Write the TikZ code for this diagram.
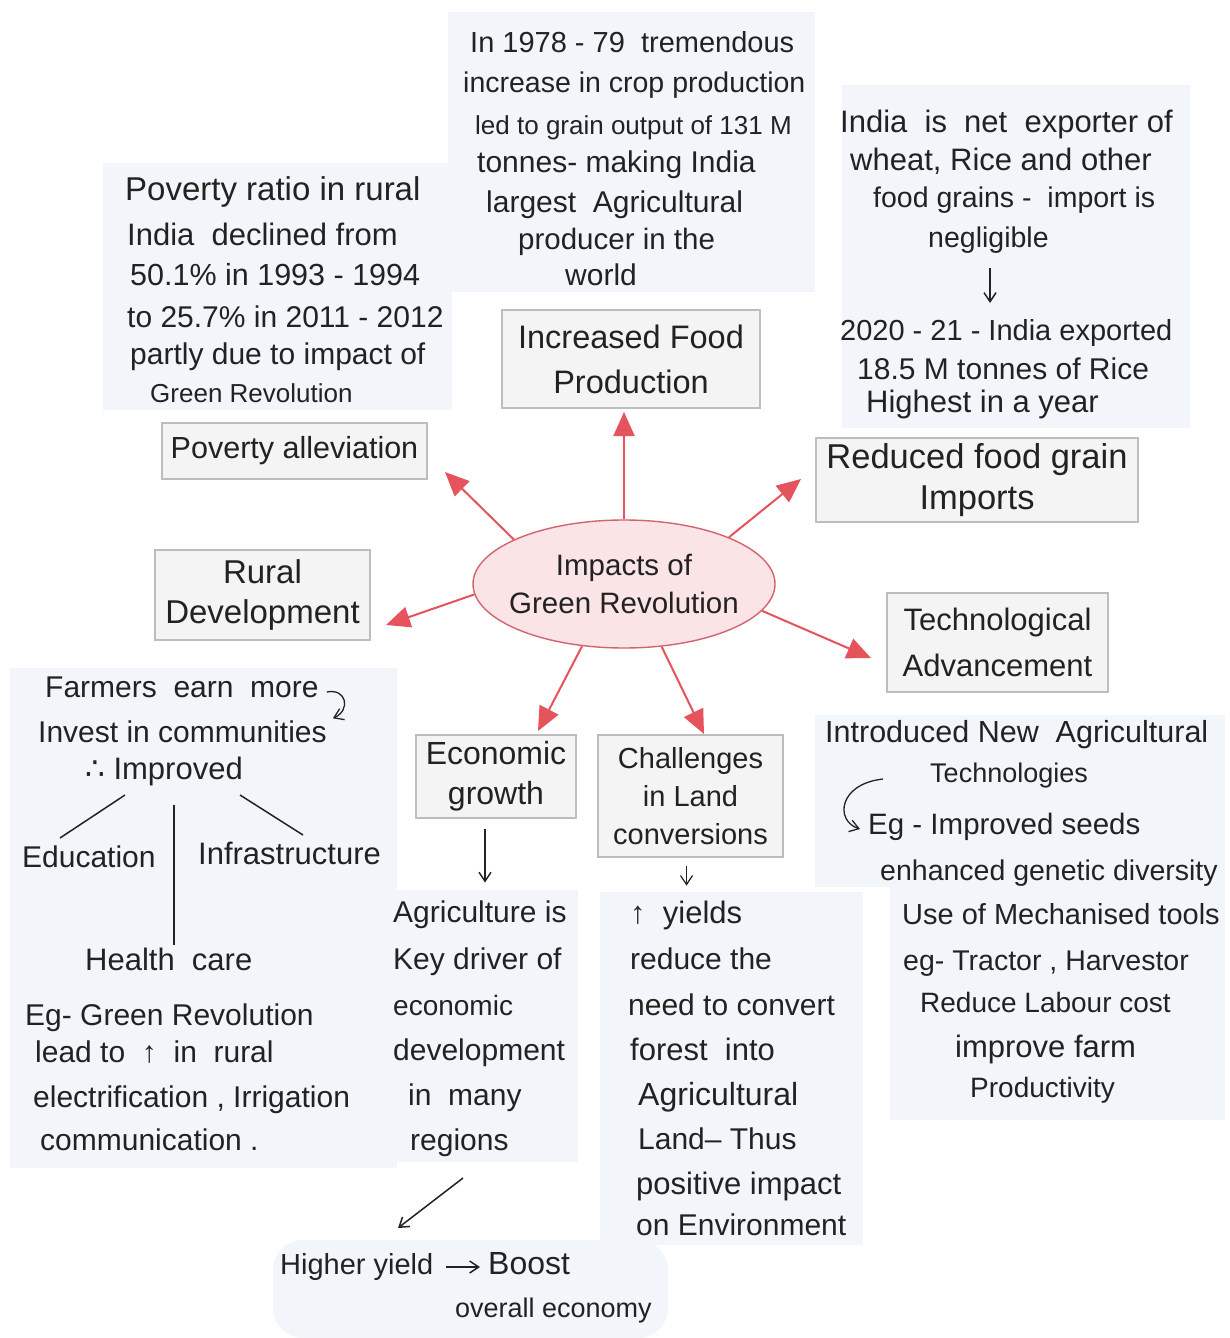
\documentclass[tikz,border=0pt]{standalone}
\usepackage{fontspec}
\setmainfont{Liberation Sans}
\newfontfamily\symfont{DejaVu Sans}
\usetikzlibrary{arrows.meta,shapes.geometric,calc}

\definecolor{panel}{HTML}{F2F6FB}
\definecolor{boxfill}{HTML}{F4F4F4}
\definecolor{boxline}{HTML}{BDBDBD}
\definecolor{hubfill}{HTML}{FBE4E5}
\definecolor{hubline}{HTML}{D2646C}
\definecolor{spoke}{HTML}{E5535C}
\definecolor{ink}{HTML}{222222}

\newcommand{\fs}[1]{\fontsize{#1}{1.3\dimexpr#1pt\relax}\selectfont}

\begin{document}
\begin{tikzpicture}[x=1pt,y=-1pt,
  panelbg/.style={fill=panel,draw=none},
  topic/.style={draw=boxline,fill=boxfill,line width=1.2pt,align=center,
    text=ink,inner sep=0pt},
  hub/.style={ellipse,draw=hubline,fill=hubfill,line width=1.4pt,
    minimum width=302pt,minimum height=128pt,inner xsep=-30pt,inner ysep=-10pt,
    align=center,text=ink,font=\fontsize{29.5}{38}\selectfont},
  ln/.style={anchor=west,inner sep=0pt,text=ink,text height=22pt,
    text depth=7pt,font=\fs{30}},
  spokearrow/.style={draw=spoke,line width=2pt,
    -{Triangle[length=24pt,width=21pt]}},
  pen/.style={draw=ink,line width=1.5pt},
  penarrow/.style={draw=ink,line width=1.5pt,-{Straight Barb[length=9pt,width=12pt]}}
]
\useasboundingbox[fill=white] (0,0) rectangle (1229,1338);

% light note panels
\fill[panelbg] (103,163) rectangle (452,410);
\fill[panelbg] (448,12) rectangle (815,292);
\fill[panelbg] (842,85) rectangle (1190,428);
\fill[panelbg] (10,668) rectangle (397,1168);
\fill[panelbg] (388,890) rectangle (578,1162);
\fill[panelbg] (600,892) rectangle (863,1245);
\fill[panelbg] (815,715) rectangle (1225,887);
\fill[panelbg] (890,887) rectangle (1225,1120);
\fill[panelbg,rounded corners=30pt] (273,1240) rectangle (668,1338);

% central hub
\node[hub] (hub) at (624,584) {Impacts of\\Green Revolution};

% topic boxes
\node[topic,minimum width=258pt,minimum height=98pt,font=\fontsize{32.5}{45}\selectfont]
  (food) at (631,359) {Increased Food\\Production};
\node[topic,minimum width=265pt,minimum height=56pt,font=\fontsize{30.5}{36}\selectfont]
  (pov) at (294.5,451) {Poverty alleviation};
\node[topic,minimum width=322pt,minimum height=84pt,font=\fontsize{34.5}{41}\selectfont]
  (imp) at (977,480) {Reduced food grain\\Imports};
\node[topic,minimum width=215pt,minimum height=90pt,font=\fontsize{33}{40}\selectfont]
  (rural) at (262.5,595) {Rural\\Development};
\node[topic,minimum width=221pt,minimum height=99pt,font=\fontsize{31}{46}\selectfont]
  (tech) at (997.5,642.5) {Technological\\Advancement};
\node[topic,minimum width=160pt,minimum height=83pt,font=\fontsize{32}{40}\selectfont]
  (econ) at (496,776.5) {Economic\\growth};
\node[topic,minimum width=185pt,minimum height=122pt,font=\fontsize{29}{38}\selectfont]
  (chal) at (690.5,796) {Challenges\\in Land\\conversions};

% spoke tips
\coordinate (tfood) at (624,412);
\coordinate (tpov) at (445,472);
\coordinate (timp) at (801,479);
\coordinate (trural) at (386,625);
\coordinate (ttech) at (871,658);
\coordinate (tecon) at (538,731);
\coordinate (tchal) at (704,734);

\draw[spokearrow] (hub.north) -- (tfood);
\draw[spokearrow] (hub.158) -- (tpov);
\draw[spokearrow] (hub.24.5) -- (timp);
\draw[spokearrow] (hub.184.6) -- (trural);
\draw[spokearrow] (hub.-11) -- (ttech);
\draw[spokearrow] (hub.-124) -- (tecon);
\draw[spokearrow] (hub.-59) -- (tchal);

% food production note
\node[ln,font=\fs{29}] (f1) at (470,45) {In 1978 - 79 \ tremendous};
\node[ln,font=\fs{28.5}] (f2) at (463,85) {increase in crop production};
\node[ln,font=\fs{26}] (f3) at (475,127) {led to grain output of 131 M};
\node[ln] (f4) at (477,165) {tonnes- making India};
\node[ln] (f5) at (486,205) {largest \ Agricultural};
\node[ln,font=\fs{29.5}] (f6) at (518,242) {producer in the};
\node[ln] (f7) at (565,278) {world};

% imports note
\node[ln,font=\fs{31}] (r1) at (840,125) {India \ is \ net \ exporter of};
\node[ln,font=\fs{31}] (r2) at (850,163) {wheat, Rice and other};
\node[ln,font=\fs{28.5}] (r3) at (873,200) {food grains - \ import is};
\node[ln,font=\fs{28.5}] (r4) at (928,240) {negligible};
\node[ln,font=\fs{29}] (r5) at (840,333) {2020 - 21 - India exported};
\node[ln] (r6) at (857,372) {18.5 M tonnes of Rice};
\node[ln,font=\fs{31}] (r7) at (866,405) {Highest in a year};
\draw[penarrow] ($(r4.west)+(62,28)$) -- ($(r5.west)+(150,-30)$);

% poverty note
\node[ln,font=\fs{33}] (p1) at (125,193) {Poverty ratio in rural};
\node[ln,font=\fs{31}] (p2) at (127,238) {India \ declined from};
\node[ln,font=\fs{30.5}] (p3) at (130,278) {50.1\% in 1993 - 1994};
\node[ln] (p4) at (127,320) {to 25.7\% in 2011 - 2012};
\node[ln] (p5) at (130,357) {partly due to impact of};
\node[ln,font=\fs{26}] (p6) at (150,395) {Green Revolution};

% rural development note
\node[ln] (d1) at (45,690) {Farmers \ earn \ more};
\node[ln] (d2) at (38,735) {Invest in communities};
\node[ln,font=\fs{31}] (d3) at (85,772) {{\symfont ∴} Improved};
\node[ln] (d4) at (22,860) {Education};
\node[ln,font=\fs{31}] (d5) at (198,857) {Infrastructure};
\node[ln,font=\fs{31}] (d6) at (85,963) {Health \ care};
\node[ln] (d7) at (25,1018) {Eg- Green Revolution};
\node[ln] (d8) at (35,1055) {lead to \ ↑ \ in \ rural};
\node[ln] (d9) at (33,1100) {electrification , Irrigation};
\node[ln] (d10) at (40,1143) {communication .};
\draw[penarrow,line width=1.3pt] ($(d1.east)+(8,2)$) .. controls +(20,-4) and +(18,-8) .. ($(d2.north east)+(6,-2)$);
\draw[pen] ($(d3.west)+(40,23)$) -- ($(d4.west)+(38,-22)$);
\draw[pen] ($(d3.west)+(89,33)$) -- ($(d6.west)+(89,-18)$);
\draw[pen] ($(d3.west)+(155,23)$) -- ($(d5.west)+(105,-22)$);

% economic growth note
\draw[penarrow] ($(econ.south)+(-11,10)$) -- ($(econ.south)+(-11,64)$);
\node[ln] (a1) at (393,915) {Agriculture is};
\node[ln] (a2) at (393,962) {Key driver of};
\node[ln,font=\fs{28}] (a3) at (393,1008) {economic};
\node[ln] (a4) at (393,1053) {development};
\node[ln] (a5) at (408,1098) {in \ many};
\node[ln] (a6) at (410,1143) {regions};
\node[ln,font=\fs{29}] (hy) at (280,1267) {Higher yield};
\node[ln,font=\fs{32}] (boost) at (488,1267) {Boost};
\node[ln,font=\fs{27}] (eco) at (455,1310) {overall economy};
\draw[penarrow] ($(a6.west)+(53,35)$) -- ($(hy.west)+(118,-39)$);
\draw[penarrow] ($(hy.east)+(12,0)$) -- ($(boost.west)+(-8,0)$);

% land conversion note
\draw[penarrow,line width=1.2pt] ($(chal.south)+(-4,8)$) -- ($(chal.south)+(-4,28)$);
\node[ln,font=\fs{31}] (c1) at (630,916) {↑ \ yields};
\node[ln] (c2) at (630,962) {reduce the};
\node[ln] (c3) at (628,1008) {need to convert};
\node[ln,font=\fs{31}] (c4) at (630,1053) {forest \ into};
\node[ln,font=\fs{32}] (c5) at (638,1098) {Agricultural};
\node[ln] (c6) at (638,1142) {Land– Thus};
\node[ln,font=\fs{31}] (c7) at (636,1187) {positive impact};
\node[ln] (c8) at (636,1228) {on Environment};

% technology note
\node[ln,font=\fs{30.5}] (e1) at (825,735) {Introduced New \ Agricultural};
\node[ln,font=\fs{27}] (e2) at (930,775) {Technologies};
\node[ln,font=\fs{29.5}] (e3) at (868,827) {Eg - Improved seeds};
\node[ln,font=\fs{28.5}] (e4) at (880,873) {enhanced genetic diversity};
\node[ln,font=\fs{29}] (e5) at (902,917) {Use of Mechanised tools};
\node[ln,font=\fs{28.5}] (e6) at (903,963) {eg- Tractor , Harvestor};
\node[ln,font=\fs{28}] (e7) at (920,1005) {Reduce Labour cost};
\node[ln,font=\fs{31}] (e8) at (955,1050) {improve farm};
\node[ln,font=\fs{28}] (e9) at (970,1090) {Productivity};
\draw[penarrow,line width=1.3pt] ($(e2.west)+(-47,4)$) .. controls +(-45,5) and +(-25,-8) .. ($(e3.west)+(-8,2)$);
\end{tikzpicture}
\end{document}
